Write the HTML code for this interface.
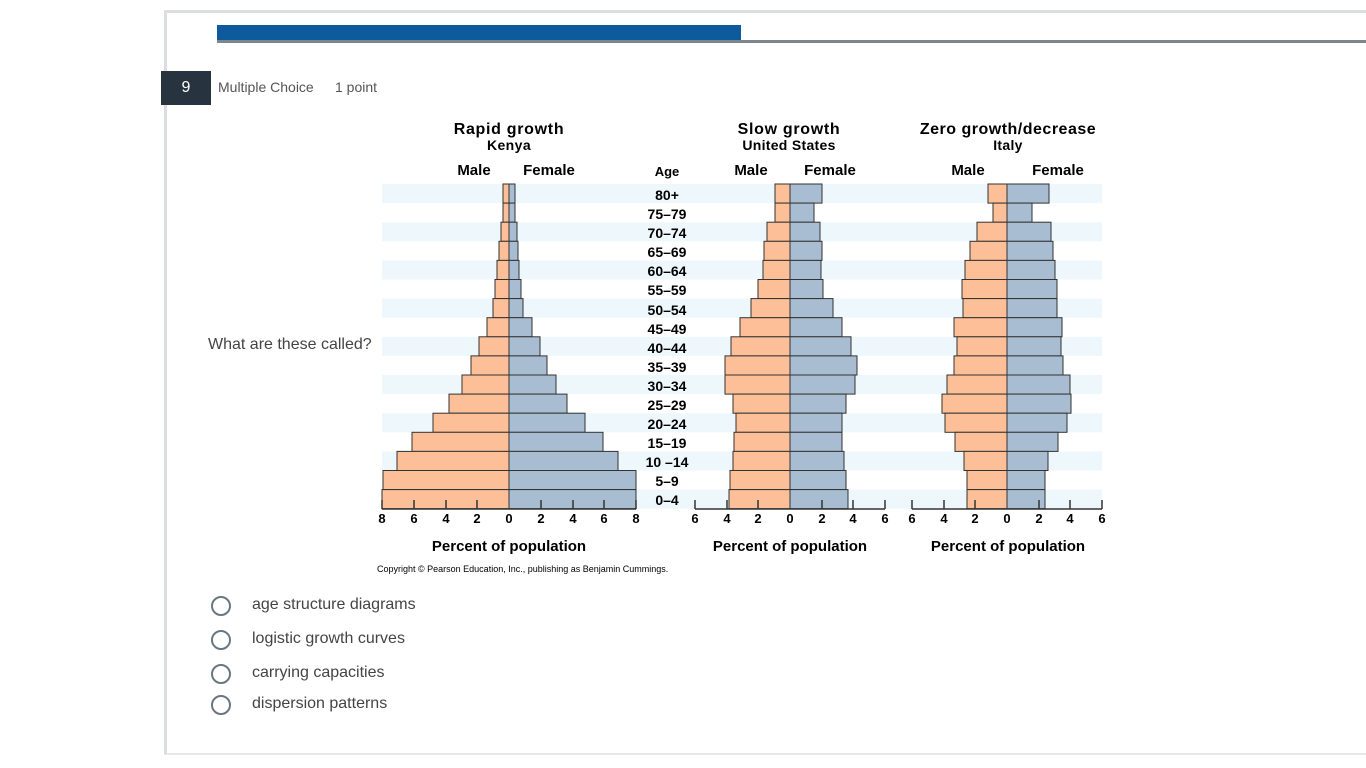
<!DOCTYPE html>
<html><head><meta charset="utf-8"><style>
body{margin:0;width:1366px;height:768px;background:#fff;position:relative;overflow:hidden;font-family:"Liberation Sans",sans-serif}
.card{position:absolute;left:164px;top:10px;width:1210px;height:740px;border-left:3px solid #dcdde0;border-top:3px solid #dcdde0;border-bottom:2px solid #e8e8ea}
.t{position:absolute;color:#444;font-size:16px;white-space:nowrap}
.r{position:absolute;left:211px;width:16px;height:16px;border:2.5px solid #6b7780;border-radius:50%}
</style></head><body>
<div class="card"></div>
<div style="position:absolute;left:217px;top:25px;width:524px;height:15px;background:#0d5a9c"></div>
<div style="position:absolute;left:217px;top:40px;width:1149px;height:3px;background:#7b868f"></div>
<div style="position:absolute;left:161px;top:71px;width:50px;height:34px;background:#27343f;color:#fff;font-size:16px;text-align:center;line-height:33px">9</div>
<div class="t" style="left:218px;top:79px;font-size:14px;color:#555">Multiple Choice</div>
<div class="t" style="left:335px;top:79px;font-size:14px;color:#555">1 point</div>
<div class="t" style="left:208px;top:336px">What are these called?</div>
<svg id="s" width="1366" height="768" style="position:absolute;left:0;top:0" font-family="Liberation Sans, sans-serif" font-weight="bold" fill="#000">
<g id="bars"></g>
<g font-size="15" text-anchor="middle">
<text x="509" y="134" font-size="16" letter-spacing="0.7">Rapid growth</text><text x="509" y="150" font-size="14" letter-spacing="0.4">Kenya</text>
<text x="789" y="134" font-size="16" letter-spacing="0.7">Slow growth</text><text x="789" y="150" font-size="14" letter-spacing="0.3">United States</text>
<text x="1008" y="134" font-size="16" letter-spacing="0.5">Zero growth/decrease</text><text x="1008" y="150" font-size="14" letter-spacing="0.3">Italy</text>
<text x="474" y="175">Male</text><text x="549" y="175">Female</text>
<text x="751" y="175">Male</text><text x="830" y="175">Female</text>
<text x="968" y="175">Male</text><text x="1058" y="175">Female</text>
<text x="667" y="176" font-size="13">Age</text>
<text x="509" y="551">Percent of population</text>
<text x="790" y="551">Percent of population</text>
<text x="1008" y="551">Percent of population</text>
</g>
<g font-size="14" text-anchor="middle" id="ages">
<text x="667" y="200">80+</text><text x="667" y="219">75–79</text><text x="667" y="238">70–74</text><text x="667" y="257">65–69</text><text x="667" y="276">60–64</text><text x="667" y="295">55–59</text><text x="667" y="315">50–54</text><text x="667" y="334">45–49</text><text x="667" y="353">40–44</text><text x="667" y="372">35–39</text><text x="667" y="391">30–34</text><text x="667" y="410">25–29</text><text x="667" y="429">20–24</text><text x="667" y="448">15–19</text><text x="667" y="467">10 –14</text><text x="667" y="486">5–9</text><text x="667" y="505">0–4</text>
</g>
<g font-size="13" text-anchor="middle">
<text x="382" y="523">8</text><text x="414" y="523">6</text><text x="446" y="523">4</text><text x="477" y="523">2</text><text x="509" y="523">0</text><text x="541" y="523">2</text><text x="573" y="523">4</text><text x="604" y="523">6</text><text x="636" y="523">8</text>
<text x="695" y="523">6</text><text x="727" y="523">4</text><text x="758" y="523">2</text><text x="790" y="523">0</text><text x="822" y="523">2</text><text x="853" y="523">4</text><text x="885" y="523">6</text>
<text x="912" y="523">6</text><text x="944" y="523">4</text><text x="975" y="523">2</text><text x="1007" y="523">0</text><text x="1039" y="523">2</text><text x="1070" y="523">4</text><text x="1102" y="523">6</text>
</g>
<text x="377" y="572" font-size="9" font-weight="normal">Copyright © Pearson Education, Inc., publishing as Benjamin Cummings.</text>
</svg>
<div class="r" style="top:596px"></div><div class="t" style="left:252px;top:596px">age structure diagrams</div>
<div class="r" style="top:630px"></div><div class="t" style="left:252px;top:630px">logistic growth curves</div>
<div class="r" style="top:664px"></div><div class="t" style="left:252px;top:664px">carrying capacities</div>
<div class="r" style="top:695px"></div><div class="t" style="left:252px;top:695px">dispersion patterns</div>
<script>
var g=document.getElementById('bars'),h='';
var top0=184,rh=19.1;
for(var i=0;i<17;i+=2)h+='<rect x="382" y="'+(top0+i*rh)+'" width="720" height="'+rh+'" fill="#eef8fc"/>';
var P=[[509,[503,503,501,499,497,495,493,487,479,471,462,449,433,412,397,383,382],[515,515,517,518,519,521,523,532,540,547,556,567,585,603,618,636,636]],
[790,[775,775,767,764,763,758,751,740,731,725,725,733,736,734,733,730,729],[822,814,820,822,821,823,833,842,851,857,855,846,842,842,844,846,848]],
[1007,[988,993,977,970,965,962,963,954,957,954,947,942,945,955,964,967,967],[1049,1032,1051,1053,1055,1057,1057,1062,1061,1063,1070,1071,1067,1058,1048,1045,1045]]];
P.forEach(function(p){var c=p[0];for(var i=0;i<17;i++){var y=top0+i*rh;
h+='<rect x="'+p[1][i]+'" y="'+y+'" width="'+(c-p[1][i])+'" height="'+rh+'" fill="#fdbf97" stroke="#333" stroke-width="1"/>';
h+='<rect x="'+c+'" y="'+y+'" width="'+(p[2][i]-c)+'" height="'+rh+'" fill="#a8bdd1" stroke="#333" stroke-width="1"/>';}});
var ax=[[382,636,[414,446,477,541,573,604]],[695,885,[727,758,822,853]],[912,1102,[944,975,1039,1070]]];
ax.forEach(function(a){h+='<line x1="'+a[0]+'" y1="509" x2="'+a[1]+'" y2="509" stroke="#333" stroke-width="1.5"/>';
[a[0],a[1]].concat(a[2]).forEach(function(x){h+='<line x1="'+x+'" y1="500" x2="'+x+'" y2="509" stroke="#333" stroke-width="1.5"/>';});});
g.innerHTML=h;
</script>
</body></html>
